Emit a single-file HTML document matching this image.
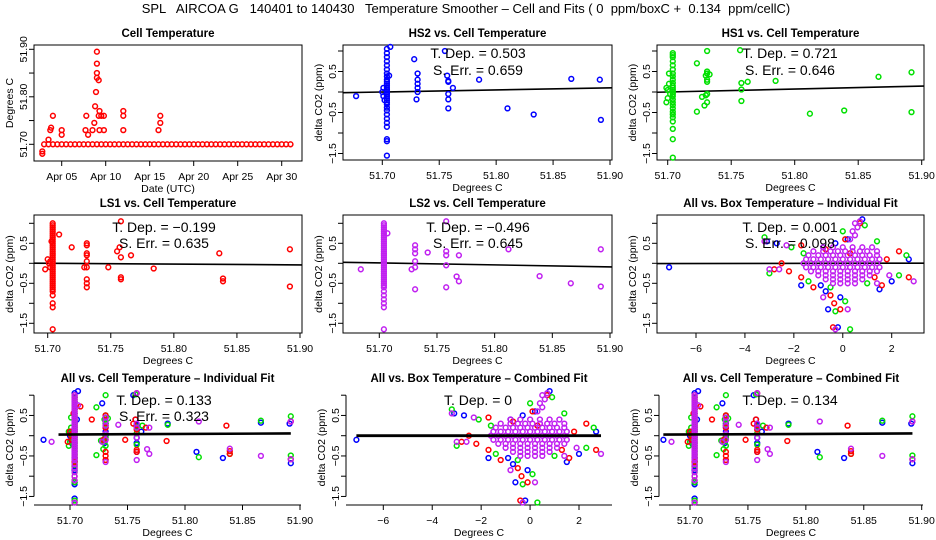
<!DOCTYPE html>
<html><head><meta charset="utf-8"><title>Temperature Smoother</title>
<style>
html,body{margin:0;padding:0;background:#fff;}
svg{display:block;font-family:"Liberation Sans",sans-serif;}
</style></head>
<body>
<svg id="chart" width="936" height="540" viewBox="0 0 936 540" xmlns="http://www.w3.org/2000/svg">
<rect x="0" y="0" width="936" height="540" fill="#fff"/>
<text x="466" y="13" font-size="13" text-anchor="middle" xml:space="preserve">SPL   AIRCOA G   140401 to 140430   Temperature Smoother – Cell and Fits ( 0  ppm/boxC +  0.134  ppm/cellC)</text>
</svg>
<script>
// ---------- data ----------
const cellBaseDays = [3,3.5,4,4.5,5,5.5,6,6.5,7,7.5,8,8.5,9,9.5,10,10.5,11,11.5,12,12.5,13,13.5,14,14.5,15,15.5,16,16.5,17,17.5,18,18.5,19,19.5,20,20.5,21,21.5,22,22.5,23,23.5,24,24.5,25,25.5,26,26.5,27,27.5,28,28.5,29,29.5,30,30.5,31];
const cellBaseTemp = 51.70;
const cellSpikeDays = [2.8,2.8,3.5,3.7,3.8,4,5,5,7.8,7.7,8,8.5,8.7,8.8,8.9,9,9,9,9,9.2,9.3,9.2,9.3,9.5,9.8,9.8,12,12,12,16.2,16.2,16];
const cellSpikeTemp = [51.685,51.68,51.71,51.73,51.735,51.76,51.73,51.72,51.76,51.73,51.72,51.73,51.745,51.78,51.81,51.84,51.85,51.87,51.895,51.835,51.77,51.76,51.73,51.76,51.76,51.73,51.77,51.76,51.73,51.76,51.745,51.73];
const dayTicks = [5,10,15,20,25,30];
const dayLabels = ["Apr 05","Apr 10","Apr 15","Apr 20","Apr 25","Apr 30"];
const cellTempTicks = [51.70,51.75,51.80,51.85,51.90];
const cellTempLabels = ["51.70","","51.80","","51.90"];

const hs2X = [51.677,51.707,51.706,51.728,51.730,51.731,51.731,51.731,51.731,51.731,51.755,51.757,51.758,51.758,51.758,51.758,51.758,51.762,51.785,51.810,51.833,51.866,51.891,51.892,51.700,51.701,51.701,51.702];
const hs2Y = [-0.1,1.1,0.4,0.8,-0.18,0.45,0.3,0.2,0.1,0.0,1.0,0.4,0.27,0.25,-0.05,-0.18,-0.4,0.1,0.3,-0.4,-0.55,0.32,0.3,-0.68,0.0,-0.1,0.1,-0.2];
const hs2ColX = 51.704;
const hs2ColY = [1.05,0.95,0.85,0.75,0.65,0.55,0.45,0.38,0.3,0.25,0.2,0.15,0.1,0.05,0,-0.05,-0.1,-0.15,-0.2,-0.25,-0.3,-0.38,-0.45,-0.55,-0.65,-0.75,-0.85,-1.15,-1.2,-1.55];

const hs1X = [51.701,51.723,51.723,51.727,51.729,51.730,51.730,51.731,51.731,51.731,51.731,51.731,51.731,51.731,51.733,51.757,51.758,51.758,51.758,51.763,51.785,51.812,51.839,51.866,51.892,51.892,51.699,51.700,51.701,51.700,51.702,51.699];
const hs1Y = [0.45,0.7,-0.48,-0.12,-0.33,0.4,-0.08,1.0,0.5,0.45,0.3,0.25,-0.25,-0.05,0.43,1.02,0.22,0.06,-0.22,0.25,0.27,-0.53,-0.45,0.37,0.48,-0.49,0.1,-0.15,0.2,0.05,-0.05,-0.25];
const hs1ColX = 51.704;
const hs1ColY = [0.95,0.9,0.85,0.75,0.65,0.55,0.45,0.38,0.3,0.22,0.15,0.1,0.05,0,-0.05,-0.1,-0.18,-0.25,-0.32,-0.4,-0.48,-0.55,-0.62,-0.72,-0.9,-1.15,-1.6];

const ls1X = [51.698,51.709,51.719,51.729,51.731,51.731,51.731,51.731,51.731,51.731,51.731,51.731,51.731,51.748,51.755,51.757,51.758,51.758,51.758,51.758,51.766,51.784,51.836,51.839,51.839,51.892,51.892,51.700,51.701,51.702,51.702,51.703];
const ls1Y = [-0.15,0.72,0.4,-0.1,0.5,0.45,0.25,0.2,0.05,-0.1,-0.4,-0.5,-0.6,-0.1,0.3,0.4,1.05,0.15,-0.35,-0.4,0.2,-0.13,0.25,-0.38,-0.45,0.35,-0.58,0.1,0.0,0.05,-0.1,0.55];
const ls1ColX = 51.704;
const ls1ColY = [1.0,0.95,0.9,0.85,0.8,0.75,0.7,0.65,0.6,0.55,0.5,0.45,0.4,0.35,0.3,0.25,0.2,0.15,0.1,0.05,0,-0.05,-0.1,-0.15,-0.2,-0.25,-0.3,-0.35,-0.4,-0.45,-0.5,-0.55,-0.6,-0.65,-0.7,-0.8,-1.0,-1.1,-1.65];

const ls2X = [51.684,51.707,51.728,51.731,51.731,51.731,51.731,51.731,51.731,51.742,51.758,51.758,51.758,51.758,51.758,51.767,51.769,51.769,51.812,51.839,51.866,51.892,51.892];
const ls2Y = [-0.15,0.75,-0.15,0.45,0.35,0.25,0.05,-0.1,-0.65,0.27,1.05,0.3,0.2,-0.05,-0.6,-0.33,0.2,-0.45,0.35,-0.32,-0.5,0.35,-0.58];
const ls2ColX = 51.704;
const ls2ColY = [1.0,0.95,0.9,0.85,0.8,0.75,0.7,0.65,0.6,0.55,0.5,0.45,0.4,0.35,0.3,0.25,0.2,0.15,0.1,0.05,0,-0.05,-0.1,-0.15,-0.2,-0.25,-0.3,-0.35,-0.4,-0.45,-0.5,-0.55,-0.6,-0.7,-0.8,-0.9,-1.0,-1.1,-1.65];

// box temperature data
const boxMagX = [-0.8,-0.4,0,0.4,0.8,1.2, -1.2,-0.8,-0.5,-0.2,0.1,0.4,0.7,1.0,1.4, -1.4,-1.0,-0.7,-0.4,-0.1,0.2,0.5,0.8,1.1,1.4, -1.5,-1.2,-0.9,-0.6,-0.3,0,0.3,0.6,0.9,1.2,1.5, -1.6,-1.3,-1.0,-0.7,-0.4,-0.1,0.2,0.5,0.8,1.1,1.4, -1.5,-1.2,-0.9,-0.6,-0.3,0,0.3,0.6,0.9,1.2,1.5, -1.3,-1.0,-0.7,-0.4,-0.1,0.2,0.5,0.8,1.1,1.4, -1.0,-0.7,-0.4,-0.1,0.2,0.5,0.8,1.1, -0.7,-0.4,-0.1,0.2,0.5,0.8, -0.4,-0.1,0.2,0.5, 0.3,0.5,0.4,0.6,0.5,0.7, -3.2,-3,-2.6,-2.3,2.9,1.9,0.2,-0.3,-0.8,1.4];
const boxMagY = [0.4,0.4,0.4,0.4,0.4,0.4, 0.3,0.3,0.3,0.3,0.3,0.3,0.3,0.3,0.3, 0.2,0.2,0.2,0.2,0.2,0.2,0.2,0.2,0.2,0.2, 0.1,0.1,0.1,0.1,0.1,0.1,0.1,0.1,0.1,0.1,0.1, 0,0,0,0,0,0,0,0,0,0,0, -0.1,-0.1,-0.1,-0.1,-0.1,-0.1,-0.1,-0.1,-0.1,-0.1,-0.1, -0.2,-0.2,-0.2,-0.2,-0.2,-0.2,-0.2,-0.2,-0.2,-0.2, -0.3,-0.3,-0.3,-0.3,-0.3,-0.3,-0.3,-0.3, -0.4,-0.4,-0.4,-0.4,-0.4,-0.4, -0.5,-0.5,-0.5,-0.5, 0.6,0.7,0.8,0.9,1.0,1.05, 0.55,-0.15,-0.15,0.45,-0.45,-0.3,-1.15,-1.65,-0.85,-0.5];
const boxBlueX = [-7.1,-3.1,-2.7,-1.7,-0.9,-0.7,-0.6,-0.2,-0.1,0.8,2.0,2.7,1.5,0.2,-0.3,-0.8];
const boxBlueY = [-0.1,0.55,0.5,-0.55,-0.55,-0.7,-1.15,-1.6,-0.85,1.1,-0.45,0.1,-0.65,0.6,0.5,0.4];
const boxGreenX = [-3.2,-3,-2.1,-1.4,-0.5,0,0.9,0.1,0.3,2.3,2.6,1.4,-1.6,-0.3,1.0];
const boxGreenY = [0.65,-0.25,0.4,-0.45,-0.6,0.8,0.95,-0.95,-1.65,-0.3,0.2,0.55,0.25,-1.2,-0.5];
const boxRedX = [-2.8,-2.5,-2.2,-1.7,-1.7,-1.2,-0.5,-0.35,-0.1,-0.4,0.1,0.7,1.3,1.6,2.3,2.7,1.8,0.3,-0.7];
const boxRedY = [-0.15,0,-0.2,0.45,-0.35,-0.6,-0.8,-1.0,-1.15,-1.6,0.6,1.0,-0.35,-0.55,0.3,-0.35,0.1,0.25,0.35];

const co2Ticks = [1,0.5,0,-0.5,-1,-1.5];
const co2Labels = ["","0.5","","\u22120.5","","\u22121.5"];
const cellXTicks = [51.70,51.75,51.80,51.85,51.90];
const cellXLabels = ["51.70","51.75","51.80","51.85","51.90"];
const boxXTicks = [-6,-4,-2,0,2];
const boxXLabels = ["\u22126","\u22124","\u22122","0","2"];

const fitSlopes = {hs2:0.503, hs1:0.721, ls1:-0.199, ls2:-0.496, boxInd:0.001, cellInd:0.133, boxComb:0, cellComb:0.134};
const fitIntercepts = {hs2:0.0, hs1:0.0, ls1:0.0, ls2:0.01, boxInd:0.0, cellInd:0.03, boxComb:0.0, cellComb:0.03};

const C = {blue:"#0000ff", green:"#00e000", red:"#ff0000", mag:"#c020f0"};

// ---------- helpers ----------
const NS = "http://www.w3.org/2000/svg";
const svg = document.getElementById("chart");
function mk(tag, attrs, parent) {
  const e = document.createElementNS(NS, tag);
  for (const k in attrs) e.setAttribute(k, attrs[k]);
  (parent || svg).appendChild(e);
  return e;
}
function lin(a, pa, b, pb) { return v => pa + (v - a) * (pb - pa) / (b - a); }

function panel(cfg) {
  const g = mk("g", {});
  
  
  const xs = lin(cfg.xa, cfg.xpa, cfg.xb, cfg.xpb);
  const ys = lin(cfg.ya, cfg.ypa, cfg.yb, cfg.ypb);
  cfg.xs = xs; cfg.ys = ys; cfg.g = g;
  const t = mk("text", {x:(cfg.L+cfg.R)/2, y:cfg.T-8, "font-size":11.5, "font-weight":"bold", "text-anchor":"middle"}, g);
  t.textContent = cfg.title;
  
  
  if (cfg.box) {
    const r = mk("rect", {x:cfg.L, y:cfg.T, width:cfg.R-cfg.L, height:cfg.B-cfg.T, fill:"none", stroke:"#000", "stroke-width":1}, g);
    
    
  } else {
    const ax = mk("line", {x1:cfg.L, x2:cfg.R, y1:cfg.B, y2:cfg.B, stroke:"#000"}, g);
    
    
    const ay = mk("line", {x1:cfg.L, x2:cfg.L, y1:ys(cfg.yTicks[0]), y2:ys(cfg.yTicks[cfg.yTicks.length-1]), stroke:"#000"}, g);
    
    
  }
  cfg.xTicks.forEach((v, i) => {
    const px = xs(v);
    const tk = mk("line", {x1:px, x2:px, y1:cfg.B, y2:cfg.B+5, stroke:"#000"}, g);
    
    
    const lb = mk("text", {x:px, y:cfg.B+19, "font-size":10.5, "text-anchor":"middle"}, g);
    lb.textContent = cfg.xLabels[i];
    
    
  });
  cfg.yTicks.forEach((v, i) => {
    const py = ys(v);
    const tk = mk("line", {x1:cfg.L-5, x2:cfg.L, y1:py, y2:py, stroke:"#000"}, g);
    
    
    if (cfg.yLabels[i]) {
      const lb = mk("text", {x:0, y:0, "font-size":10.5, "text-anchor":"middle", transform:"translate(" + (cfg.L-7) + "," + py + ") rotate(-90)"}, g);
      lb.textContent = cfg.yLabels[i];
      
      
    }
  });
  const xt = mk("text", {x:(cfg.L+cfg.R)/2, y:cfg.B+31, "font-size":10.5, "text-anchor":"middle"}, g);
  xt.textContent = cfg.xTitle;
  
  
  const yt = mk("text", {x:0, y:0, "font-size":10.5, "text-anchor":"middle", transform:"translate(" + (cfg.L-21) + "," + ((cfg.T+cfg.B)/2) + ") rotate(-90)"}, g);
  yt.textContent = cfg.yTitle;
  
  
  return cfg;
}

function pts(cfg, xArr, yArr, color, label) {
  const g = mk("g", {fill:"none", stroke:color, "stroke-width":1.5}, cfg.g);
  
  
  for (let i = 0; i < xArr.length; i++) {
    const c = mk("circle", {cx:cfg.xs(xArr[i]).toFixed(1), cy:cfg.ys(yArr[i]).toFixed(1), r:2.4}, g);
    
    
  }
}
function col(cfg, x, yArr, color, label) {
  pts(cfg, yArr.map(() => x), yArr, color, label);
}
function fit(cfg, key, x0, x1, w) {
  const s = fitSlopes[key], b = fitIntercepts[key];
  const ref = cfg.fitRef;
  const l = mk("line", {x1:cfg.xs(x0), x2:cfg.xs(x1), y1:cfg.ys(b + s*(x0-ref)), y2:cfg.ys(b + s*(x1-ref)), stroke:"#000", "stroke-width":w}, cfg.g);
  
  
}
function note(cfg, cx, lines, y0, dy) {
  lines.forEach((s, i) => {
    const t = mk("text", {x:cx, y:y0 + i*dy, "font-size":14, "text-anchor":"middle", "xml:space":"preserve"}, cfg.g);
    t.textContent = s;
    
    
  });
}
function inv(cfg, px) { return cfg.xa + (px - cfg.xpa) * (cfg.xb - cfg.xa) / (cfg.xpb - cfg.xpa); }

// ---------- panels ----------
const co2 = (row) => row === 1 ? {ya:0, ypa:92, yb:1, ypb:51} : row === 2 ? {ya:0, ypa:263.3, yb:1, ypb:223.3} : {ya:0, ypa:435.7, yb:1, ypb:395.2};
const rowT = {1:45, 2:215, 3:390};
const rowB = {1:160, 2:333, 3:505};
function cellPanel(name, title, row, colL, colR, xpa, xpb, box) {
  return panel(Object.assign({name, title, L:colL, R:colR, T:rowT[row], B:rowB[row], xa:51.70, xpa, xb:51.90, xpb, box,
    xTicks:cellXTicks, xLabels:cellXLabels, yTicks:co2Ticks, yLabels:co2Labels, xTitle:"Degrees C", yTitle:"delta CO2 (ppm)", fitRef:51.70}, co2(row)));
}
function boxPanel(name, title, row, colL, colR, xpa, xpb, box) {
  return panel(Object.assign({name, title, L:colL, R:colR, T:rowT[row], B:rowB[row], xa:-6, xpa, xb:2, xpb, box,
    xTicks:boxXTicks, xLabels:boxXLabels, yTicks:co2Ticks, yLabels:co2Labels, xTitle:"Degrees C", yTitle:"delta CO2 (ppm)", fitRef:0}, co2(row)));
}

const p1 = panel({name:"cell-temperature-panel", title:"Cell Temperature", L:34, R:302, T:45, B:161,
  xa:5, xpa:61.7, xb:30, xpb:281.7, ya:51.70, ypa:144.3, yb:51.90, ypb:49.3, box:true,
  xTicks:dayTicks, xLabels:dayLabels, yTicks:cellTempTicks, yLabels:cellTempLabels, xTitle:"Date (UTC)", yTitle:"Degrees C"});
pts(p1, cellBaseDays, cellBaseDays.map(() => cellBaseTemp), C.red, "cell-temp-baseline");
pts(p1, cellSpikeDays, cellSpikeTemp, C.red, "cell-temp-spikes");

const p2 = cellPanel("hs2-panel", "HS2 vs. Cell Temperature", 1, 343, 612, 382.3, 610, true);
fit(p2, "hs2", inv(p2, 343), inv(p2, 612), 1.6);
col(p2, hs2ColX, hs2ColY, C.blue, "hs2-column");
pts(p2, hs2X, hs2Y, C.blue, "hs2-points");
note(p2, 478, ["T. Dep. =  0.503", "S. Err. =  0.659"], 58, 17);

const p3 = cellPanel("hs1-panel", "HS1 vs. Cell Temperature", 1, 657, 924, 667.7, 921.7, true);
fit(p3, "hs1", inv(p3, 657), inv(p3, 924), 1.6);
col(p3, hs1ColX, hs1ColY, C.green, "hs1-column");
pts(p3, hs1X, hs1Y, C.green, "hs1-points");
note(p3, 790, ["T. Dep. =  0.721", "S. Err. =  0.646"], 58, 17);

const p4 = cellPanel("ls1-panel", "LS1 vs. Cell Temperature", 2, 34, 302, 47.7, 300, true);
fit(p4, "ls1", inv(p4, 34), inv(p4, 302), 1.6);
col(p4, ls1ColX, ls1ColY, C.red, "ls1-column");
pts(p4, ls1X, ls1Y, C.red, "ls1-points");
note(p4, 164, ["T. Dep. =  \u22120.199", "S. Err. =  0.635"], 232, 16);

const p5 = cellPanel("ls2-panel", "LS2 vs. Cell Temperature", 2, 343, 612, 379.3, 610, true);
fit(p5, "ls2", inv(p5, 343), inv(p5, 612), 1.6);
col(p5, ls2ColX, ls2ColY, C.mag, "ls2-column");
pts(p5, ls2X, ls2Y, C.mag, "ls2-points");
note(p5, 478, ["T. Dep. =  \u22120.496", "S. Err. =  0.645"], 232, 16);

const p6 = boxPanel("all-box-individual-panel", "All vs. Box Temperature \u2013 Individual Fit", 2, 657, 924, 696, 891.7, true);
fit(p6, "boxInd", inv(p6, 657), inv(p6, 924), 1.6);
pts(p6, boxBlueX, boxBlueY, C.blue, "box-hs2-points");
pts(p6, boxGreenX, boxGreenY, C.green, "box-hs1-points");
pts(p6, boxRedX, boxRedY, C.red, "box-ls1-points");
pts(p6, boxMagX, boxMagY, C.mag, "box-ls2-points");
note(p6, 790, ["T. Dep. =  0.001", "S. Err. =  0.098"], 232, 16);

function allCell(p) {
  col(p, hs2ColX, hs2ColY, C.blue, "hs2-column"); pts(p, hs2X, hs2Y, C.blue, "hs2-points");
  col(p, hs1ColX, hs1ColY, C.green, "hs1-column"); pts(p, hs1X, hs1Y, C.green, "hs1-points");
  col(p, ls1ColX, ls1ColY, C.red, "ls1-column"); pts(p, ls1X, ls1Y, C.red, "ls1-points");
  col(p, ls2ColX, ls2ColY, C.mag, "ls2-column"); pts(p, ls2X, ls2Y, C.mag, "ls2-points");
}
const p7 = cellPanel("all-cell-individual-panel", "All vs. Cell Temperature \u2013 Individual Fit", 3, 34, 301, 70, 300, false);
allCell(p7);
fit(p7, "cellInd", 51.69, 51.892, 2.6);
note(p7, 164, ["T. Dep. =  0.133", "S. Err. =  0.323"], 405, 16);

const p8 = boxPanel("all-box-combined-panel", "All vs. Box Temperature \u2013 Combined Fit", 3, 346, 612, 383.3, 579, false);
pts(p8, boxBlueX, boxBlueY, C.blue, "box-hs2-points");
pts(p8, boxGreenX, boxGreenY, C.green, "box-hs1-points");
pts(p8, boxRedX, boxRedY, C.red, "box-ls1-points");
pts(p8, boxMagX, boxMagY, C.mag, "box-ls2-points");
fit(p8, "boxComb", -7.1, 2.9, 2.8);
note(p8, 478, ["T. Dep. =  0"], 405, 16);

const p9 = cellPanel("all-cell-combined-panel", "All vs. Cell Temperature \u2013 Combined Fit", 3, 659, 923, 690, 921.7, false);
allCell(p9);
fit(p9, "cellComb", 51.677, 51.892, 2.6);
note(p9, 790, ["T. Dep. =  0.134"], 405, 16);
</script>
</body></html>
